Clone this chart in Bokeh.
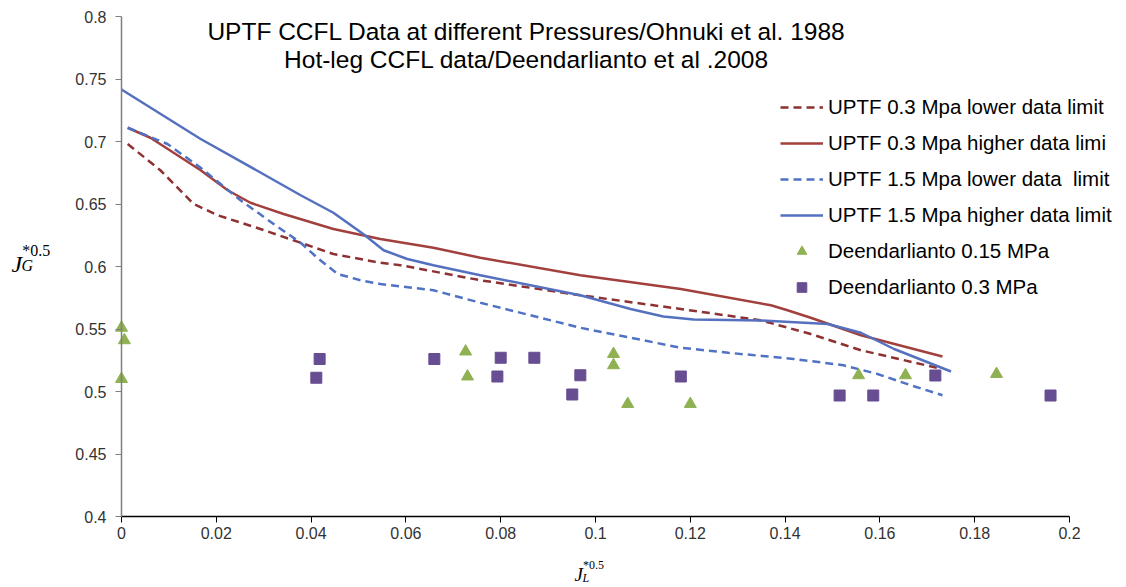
from bokeh.plotting import figure
from bokeh.models import Range1d, Label, Legend, LegendItem, FixedTicker, LinearAxis
from bokeh.embed import file_html
from bokeh.resources import INLINE

# ---------------- data ----------------
red_low_x = [0.0013, 0.0082, 0.0152, 0.0203, 0.0293, 0.0378, 0.0447, 0.0546, 0.0589, 0.0757, 0.0968, 0.1180, 0.1348, 0.1454, 0.1560, 0.1720]
red_low_y = [0.698, 0.677, 0.650, 0.641, 0.630, 0.619, 0.610, 0.603, 0.601, 0.589, 0.577, 0.566, 0.557, 0.546, 0.533, 0.519]

red_high_x = [0.0013, 0.0061, 0.0167, 0.0224, 0.0272, 0.0342, 0.0447, 0.0546, 0.0658, 0.0757, 0.0968, 0.1180, 0.1370, 0.1405, 0.1454, 0.1560, 0.1732]
red_high_y = [0.711, 0.703, 0.677, 0.661, 0.651, 0.642, 0.630, 0.622, 0.615, 0.607, 0.593, 0.582, 0.569, 0.565, 0.559, 0.545, 0.528]

blue_low_x = [0.0013, 0.0097, 0.0167, 0.0251, 0.0321, 0.0378, 0.0413, 0.0456, 0.0504, 0.0546, 0.0658, 0.0757, 0.0968, 0.1180, 0.1280, 0.1418, 0.1523, 0.1595, 0.1665, 0.1732]
blue_low_y = [0.711, 0.698, 0.679, 0.653, 0.634, 0.619, 0.607, 0.594, 0.589, 0.586, 0.581, 0.571, 0.551, 0.535, 0.531, 0.526, 0.521, 0.514, 0.505, 0.497]

blue_high_x = [0.0000, 0.0167, 0.0308, 0.0378, 0.0447, 0.0510, 0.0553, 0.0603, 0.0658, 0.0757, 0.0968, 0.1074, 0.1143, 0.1207, 0.1348, 0.1490, 0.1560, 0.1630, 0.1750]
blue_high_y = [0.7416, 0.702, 0.672, 0.657, 0.643, 0.626, 0.613, 0.606, 0.601, 0.593, 0.577, 0.566, 0.560, 0.5576, 0.5568, 0.554, 0.547, 0.534, 0.516]

tri_x = [0.0000, 0.0006, 0.0000, 0.0726, 0.0730, 0.1038, 0.1038, 0.1068, 0.1200, 0.1555, 0.1654, 0.1846]
tri_y = [0.551, 0.541, 0.510, 0.532, 0.512, 0.530, 0.521, 0.490, 0.490, 0.513, 0.513, 0.514]

sq_x = [0.0418, 0.0411, 0.0660, 0.0800, 0.0793, 0.0871, 0.0968, 0.0951, 0.1180, 0.1515, 0.1586, 0.1717, 0.1960]
sq_y = [0.526, 0.511, 0.526, 0.527, 0.512, 0.527, 0.513, 0.4976, 0.512, 0.4968, 0.4968, 0.5128, 0.4968]

x_ticks = [0, 0.02, 0.04, 0.06, 0.08, 0.1, 0.12, 0.14, 0.16, 0.18, 0.2]
x_tick_labels = ["0", "0.02", "0.04", "0.06", "0.08", "0.1", "0.12", "0.14", "0.16", "0.18", "0.2"]
y_ticks = [0.4, 0.45, 0.5, 0.55, 0.6, 0.65, 0.7, 0.75, 0.8]
y_tick_labels = ["0.4", "0.45", "0.5", "0.55", "0.6", "0.65", "0.7", "0.75", "0.8"]

labels = [
    "UPTF 0.3 Mpa lower data limit",
    "UPTF 0.3 Mpa higher data limi",
    "UPTF 1.5 Mpa lower data  limit",
    "UPTF 1.5 Mpa higher data limit",
    "Deendarlianto 0.15 MPa",
    "Deendarlianto 0.3 MPa",
]
title_lines = [
    "UPTF CCFL Data at different Pressures/Ohnuki et al. 1988",
    "Hot-leg CCFL data/Deendarlianto et al .2008",
]

# ---------------- layout ----------------
W, H = 1126, 587
L, T, B = 121, 16, 71            # plot-area edges in pixels
XPX = (1069 - 121) / 0.2          # pixels per x unit
YPX = (516 - 16) / 0.4            # pixels per y unit

p = figure(width=W, height=H, output_backend="svg", toolbar_location=None,
           x_range=Range1d(0 - L / XPX, 0 + (W - L) / XPX),
           y_range=Range1d(0.4 - B / YPX, 0.8 + T / YPX),
           x_axis_location=None, y_axis_location=None,
           min_border=0, min_border_left=0, min_border_right=0,
           min_border_top=0, min_border_bottom=0)
p.xgrid.visible = False
p.ygrid.visible = False
p.outline_line_color = None
p.background_fill_color = "white"
p.border_fill_color = "white"

xa = LinearAxis(fixed_location=0.4, bounds=(0, 0.2), ticker=FixedTicker(ticks=x_ticks))
xa.major_label_overrides = {t: s for t, s in zip(x_ticks, x_tick_labels)}
ya = LinearAxis(fixed_location=0, bounds=(0.4, 0.8), ticker=FixedTicker(ticks=y_ticks))
ya.major_label_overrides = {t: s for t, s in zip(y_ticks, y_tick_labels)}
for ax in (xa, ya):
    ax.minor_tick_line_color = None
    ax.major_tick_in = 0
    ax.major_tick_out = 6
    ax.major_label_text_font = "Liberation Sans"
    ax.major_label_text_font_size = "16px"
    ax.major_label_text_color = "#333333"
    ax.axis_line_width = 1.5
xa.axis_line_color = "black"
xa.major_tick_line_color = "black"
ya.axis_line_color = "#7f7f7f"
ya.major_tick_line_color = "#7f7f7f"
xa.major_label_standoff = 4
ya.major_label_standoff = 9
p.add_layout(xa, "below")
p.add_layout(ya, "left")

c_red_d = "#8E3132"
c_red = "#A2403D"
c_blue_d = "#4F72C4"
c_blue = "#5470BE"
c_green = "#8FB152"
c_purple = "#674D92"

r1 = p.line(red_low_x, red_low_y, line_color=c_red_d, line_width=2.5, line_dash="8 5")
r2 = p.line(red_high_x, red_high_y, line_color=c_red, line_width=2.5)
r3 = p.line(blue_low_x, blue_low_y, line_color=c_blue_d, line_width=2.5, line_dash="8 5")
r4 = p.line(blue_high_x, blue_high_y, line_color=c_blue, line_width=2.5)
r5 = p.scatter(tri_x, tri_y, marker="triangle", size=12, fill_color=c_green, line_color=c_green)
r6 = p.scatter(sq_x, sq_y, marker="square", size=11, fill_color=c_purple, line_color=c_purple)

legend = Legend(items=[LegendItem(label=lab, renderers=[r]) for lab, r in zip(labels, [r1, r2, r3, r4, r5, r6])],
                location=(780, H - 299), glyph_width=43, glyph_height=24,
                label_text_font="Liberation Sans", label_text_font_size="20.5px",
                label_text_color="black", spacing=12, padding=5, margin=0,
                border_line_color=None, background_fill_alpha=0, label_standoff=5)
p.add_layout(legend)

# title
for i, t in enumerate(title_lines):
    p.add_layout(Label(x=526, y=H - (31 + 28 * i), x_units="screen", y_units="screen",
                       text=t, text_font="Liberation Sans", text_font_size="24.5px",
                       text_align="center", text_baseline="middle", text_color="black"))

# axis labels (math style, built from pieces)
def math_label(x, y, sub, size, sub_dy, sup_dy, small):
    p.add_layout(Label(x=x, y=H - y, x_units="screen", y_units="screen", text="J",
                       text_font="Liberation Serif", text_font_style="italic", text_font_size=f"{size}px",
                       text_baseline="alphabetic", text_color="black"))
    p.add_layout(Label(x=x + size * 0.42, y=H - y - sub_dy, x_units="screen", y_units="screen", text=sub,
                       text_font="Liberation Serif", text_font_style="italic", text_font_size=f"{small}px",
                       text_baseline="alphabetic", text_color="black"))
    p.add_layout(Label(x=x + size * 0.45, y=H - y + sup_dy, x_units="screen", y_units="screen", text="*0.5",
                       text_font="Liberation Serif", text_font_size=f"{small}px",
                       text_baseline="alphabetic", text_color="black"))

math_label(11, 263, "G", 24, 2, 13, 16)
math_label(574, 574, "L", 19, 3, 10, 12)

open("out.html", "w").write(file_html(p, INLINE))
